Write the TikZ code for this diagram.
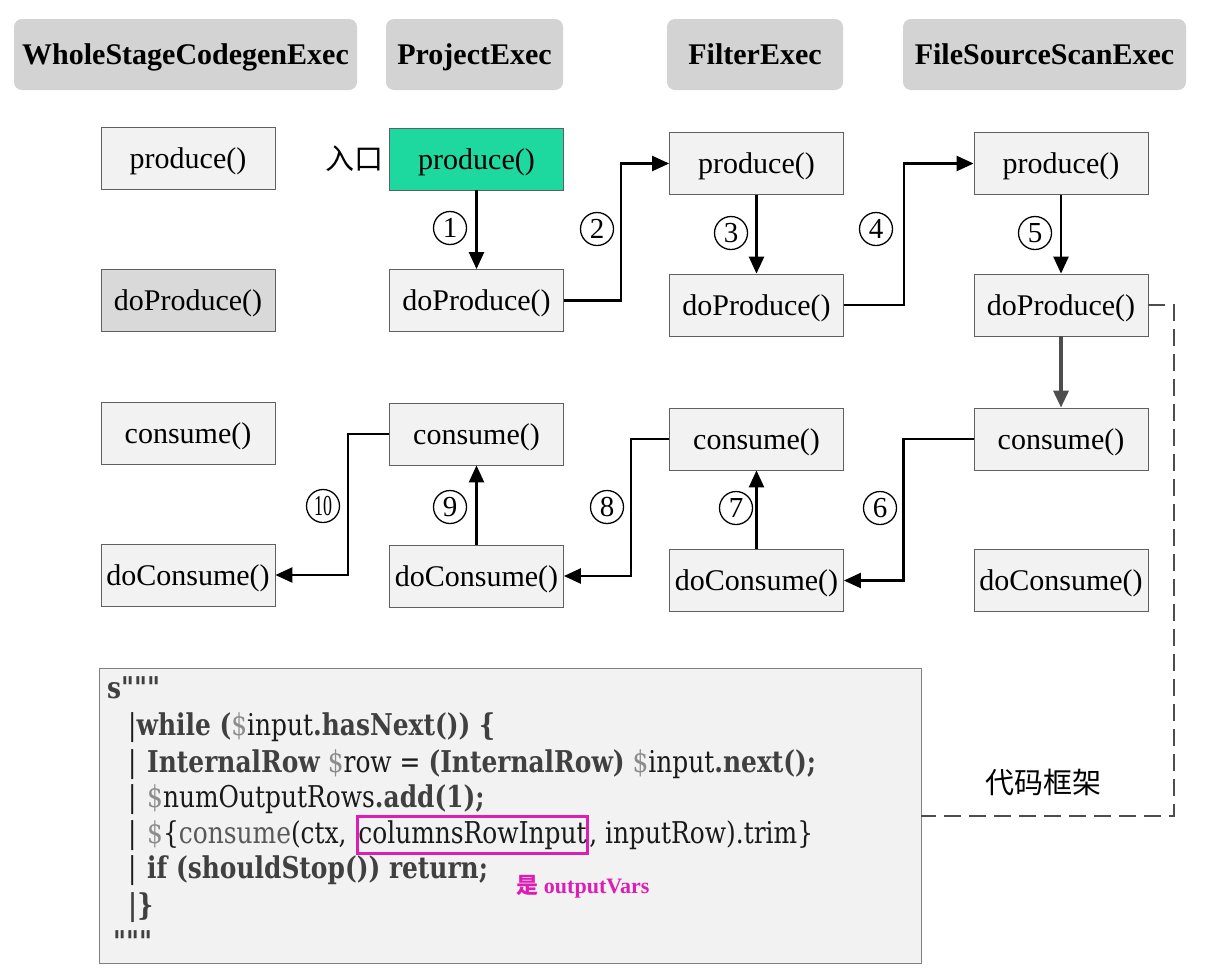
\documentclass[tikz,border=0pt]{standalone}
\usepackage{fontspec}
\usepackage{xcolor}
\usetikzlibrary{arrows.meta, positioning}
\setmainfont{Liberation Serif}
\newfontfamily\codefont[FakeStretch=0.83]{DejaVu Serif}
\newfontfamily\cjk{Noto Sans CJK SC}
\definecolor{HeadGray}{HTML}{D3D3D3}
\definecolor{BoxFill}{HTML}{F2F2F2}
\definecolor{BoxDark}{HTML}{D9D9D9}
\definecolor{BoxLine}{HTML}{606060}
\definecolor{EntryGreen}{HTML}{1DD99F}
\definecolor{ArrowGray}{HTML}{4D4D4D}
\definecolor{CodeBold}{HTML}{404040}
\definecolor{CodeReg}{HTML}{1A1A1A}
\definecolor{CodeDollar}{HTML}{8C8C8C}
\definecolor{CodeCall}{HTML}{595959}
\definecolor{Hilite}{HTML}{DC1FB4}
\newcommand{\dol}{\textcolor{CodeDollar}{\$}}
\newcommand{\bd}[1]{\textbf{\textcolor{CodeBold}{#1}}}
\tikzset{
  header/.style={fill=HeadGray, rounded corners=8pt, minimum height=71pt, inner sep=0pt, text depth=0pt, font=\fontsize{30}{36}\selectfont\bfseries},
  method/.style={draw=BoxLine, line width=0.8pt, fill=BoxFill, minimum width=174pt, minimum height=62pt, inner sep=0pt, text depth=0pt, font=\fontsize{30}{36}\selectfont},
  flow/.style={-{Triangle[length=17pt,width=15pt]}, line width=2.4pt, black},
  numlabel/.style={circle, draw, line width=1.3pt, minimum size=33pt, inner sep=0pt, font=\fontsize{29}{30}\selectfont},
  codetxt/.style={font=\codefont\fontsize{30}{36}\selectfont, text=CodeReg, inner sep=0pt, anchor=base west},
}
\begin{document}
\begin{tikzpicture}[x=1pt, y=-1pt]
    \useasboundingbox (0,0) rectangle (1209,978);

    % operator headers
    \node[header, minimum width=343pt] (hwhole) at (185.5,54.5) {WholeStageCodegenExec};
    \node[header, minimum width=177pt] (hproj) at (474.5,54.5) {ProjectExec};
    \node[header, minimum width=176pt] (hfilt) at (755,54.5) {FilterExec};
    \node[header, minimum width=283pt] (hscan) at (1044.5,54.5) {FileSourceScanExec};

    % WholeStageCodegenExec methods
    \node[method] (p1) at (188,158) {produce()};
    \node[method, fill=BoxDark] (dp1) at (188,300) {doProduce()};
    \node[method] (c1) at (188,433.5) {consume()};
    \node[method] (dc1) at (188,575) {doConsume()};

    % ProjectExec methods
    \node[method, fill=EntryGreen] (p2) at (476.5,159) {produce()};
    \node[method] (dp2) at (476.5,300.5) {doProduce()};
    \node[method] (c2) at (476.5,434) {consume()};
    \node[method] (dc2) at (476.5,576) {doConsume()};
    \node[font=\cjk\fontsize{29}{32}\selectfont, left=2pt of p2] (entry) {入口};

    % FilterExec methods
    \node[method] (p3) at (756.5,163.5) {produce()};
    \node[method] (dp3) at (756.5,305) {doProduce()};
    \node[method] (c3) at (756.5,439) {consume()};
    \node[method] (dc3) at (756.5,580.5) {doConsume()};

    % FileSourceScanExec methods
    \node[method] (p4) at (1061,163.5) {produce()};
    \node[method] (dp4) at (1061,305) {doProduce()};
    \node[method] (c4) at (1061,439) {consume()};
    \node[method] (dc4) at (1061,580) {doConsume()};

    % produce chain
    \draw[flow] (p2) -- (dp2);
    \draw[flow] (dp2.east) -- ++(57,0) |- (p3.west);
    \draw[flow] (p3) -- (dp3);
    \draw[flow] (dp3.east) -- ++(60,0) |- (p4.west);
    \draw[flow] (p4) -- (dp4);
    \draw[flow, ArrowGray, line width=3.4pt] (dp4) -- (c4);

    % consume chain
    \draw[flow] (c4.west) -- ++(-70,0) |- (dc3.east);
    \draw[flow] (dc3) -- (c3);
    \draw[flow] (c3.west) -- ++(-38,0) |- (dc2.east);
    \draw[flow] (dc2) -- (c2);
    \draw[flow] (c2.west) -- ++(-41,0) |- (dc1.east);

    % step numbers
    \node[numlabel] (n1) at (450,228) {1};
    \node[numlabel] (n2) at (597,229) {2};
    \node[numlabel] (n3) at (731,233) {3};
    \node[numlabel] (n4) at (876,229) {4};
    \node[numlabel] (n5) at (1035,233) {5};
    \node[numlabel] (n6) at (880,508) {6};
    \node[numlabel] (n7) at (736,508) {7};
    \node[numlabel] (n8) at (607,507) {8};
    \node[numlabel] (n9) at (450,507) {9};
    \node[numlabel] (n10) at (323,506) {\scalebox{0.62}[1]{10}};

    % generated code frame
    \node[draw=BoxLine!80, line width=0.8pt, fill=BoxFill, minimum width=822pt, minimum height=295pt] (code) at (510,815.5) {};
    \draw[ArrowGray, line width=2pt, dash pattern=on 17pt off 8pt] (dp4.east) -- ++(26,0) |- (code.east);
    \node[font=\cjk\fontsize{29}{32}\selectfont] (frame) at (1043,782) {代码框架};

    \node[codetxt] (l1) at (107,698) {\bd{s"""}};
    \node[codetxt] (l2) at (128,735) {|\bd{while (}\dol input\bd{.hasNext()) \{}};
    \node[codetxt] (l3a) at (128,772) {|};
    \node[codetxt] (l3) at (147,772) {\bd{InternalRow} \dol row = \bd{(InternalRow)} \dol input\bd{.next();}};
    \node[codetxt] (l4a) at (128,807) {|};
    \node[codetxt] (l4) at (147,807) {\dol numOutputRows\bd{.add(1);}};
    \node[codetxt] (l5a) at (128,843) {|};
    \node[codetxt] (l5) at (147,843) {\dol\{\textcolor{CodeCall}{consume}(ctx,\kern0.3em};
    \node[codetxt, draw=Hilite, line width=3pt, inner xsep=1pt, inner ysep=4pt] (l5b) at (l5.base east) {columnsRowInput};
    \node[codetxt] (l5c) at (l5b.base east) {, inputRow).trim\}};
    \node[codetxt] (l6a) at (128,878) {|};
    \node[codetxt] (l6) at (147,878) {\bd{if (shouldStop()) return;}};
    \node[codetxt] (l7) at (128,915) {\bd{|\}}};
    \node[codetxt] (l8) at (113,952) {\bd{"""}};
    \node[text=Hilite, font=\fontsize{22}{26}\selectfont\bfseries] (outvars) at (583,887) {{\cjk 是} outputVars};
\end{tikzpicture}
\end{document}
